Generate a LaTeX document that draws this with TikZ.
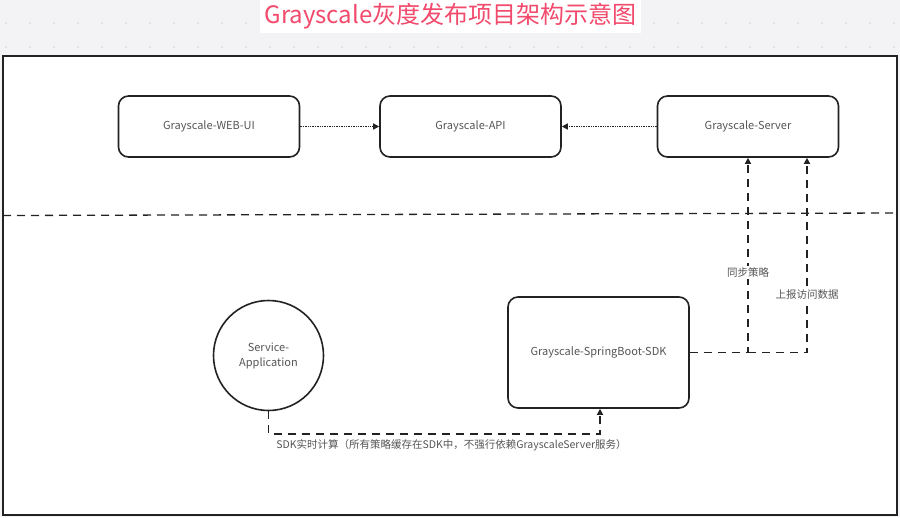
\documentclass[tikz,border=0pt]{standalone}
\usepackage{fontspec}
\newfontfamily\cjk{Noto Sans CJK SC}
\usetikzlibrary{arrows.meta,shapes.geometric}
\definecolor{bgc}{RGB}{243,243,245}
\definecolor{dotc}{RGB}{212,212,216}
\definecolor{linec}{RGB}{34,34,34}
\definecolor{txtc}{RGB}{85,85,85}
\definecolor{titlec}{RGB}{242,74,108}
\tikzset{
  box/.style={draw=linec, line width=1.6pt, rounded corners=10pt, fill=white,
    minimum width=181pt, minimum height=61pt, text=txtc,
    font=\cjk\fontsize{11}{13}\selectfont, inner sep=2pt},
  circ/.style={draw=linec, line width=1.6pt, circle, fill=white,
    minimum size=110pt, text=txtc, align=center,
    font=\cjk\fontsize{11}{15}\selectfont, inner sep=1pt},
  dotconn/.style={draw=linec, line width=1.5pt, dash pattern=on 1.4pt off 1pt,
    -{Triangle[length=6pt,width=6pt]}},
  dashconn/.style={draw=linec, line width=1.3pt, dash pattern=on 8pt off 6pt},
  dashtip/.style={-{Triangle[length=6pt,width=6pt]}},
  lbl/.style={fill=white, text=txtc, font=\cjk\fontsize{10.5}{12}\selectfont, inner sep=1.5pt},
  titlebox/.style={fill=white, text=titlec, font=\cjk\fontsize{24}{28}\selectfont,
    minimum width=381pt, minimum height=33pt, inner sep=0pt}
}
\begin{document}
\begin{tikzpicture}[x=1pt,y=-1pt]
\useasboundingbox (0,0) rectangle (900,517);
\fill[bgc] (0,0) rectangle (900,517);
\foreach \x in {6,30,...,894} \foreach \y in {23,47} \fill[dotc] (\x,\y) circle (0.9);
\node[titlebox] (title) at (450.5,16.5) {Grayscale灰度发布项目架构示意图};
% frame
\draw[linec, line width=1.6pt, fill=white] (3,56) rectangle (897,515);
% separator
\draw[dashconn] (3,215.5) -- (897,213);
% nodes
\node[box] (webui) at (209,126.5) {Grayscale-WEB-UI};
\node[box] (api) at (470.5,126.5) {Grayscale-API};
\node[box] (server) at (748,126.5) {Grayscale-Server};
\node[box, minimum height=111pt] (sdk) at (598.5,352.5) {Grayscale-SpringBoot-SDK};
\node[circ] (app) at (268.5,355.5) {Service-\\Application};
% top connectors
\draw[dotconn] (webui.east) -- (api.west);
\draw[dotconn] (server.west) -- (api.east);
% sdk to server
\coordinate (j1) at (748,352.5);
\coordinate (j2) at (807,352.5);
\draw[dashconn, dashtip] (sdk.east) -- (j1) -- node[lbl, pos=0.41] {同步策略} (server.south -| j1);
\draw[dashconn, dashtip] (j1) -- (j2) -- node[lbl, pos=0.30] {上报访问数据} (server.south -| j2);
% app to sdk
\coordinate (b1) at (600,434);
\draw[dashconn, dashtip] (app.south) -- (app.south |- b1) -- node[lbl, fill=none, pos=0.552, yshift=-11.5pt] {SDK实时计算（所有策略缓存在SDK中，不强行依赖GrayscaleServer服务）} (b1) -- (sdk.south -| b1);
\end{tikzpicture}
\end{document}
